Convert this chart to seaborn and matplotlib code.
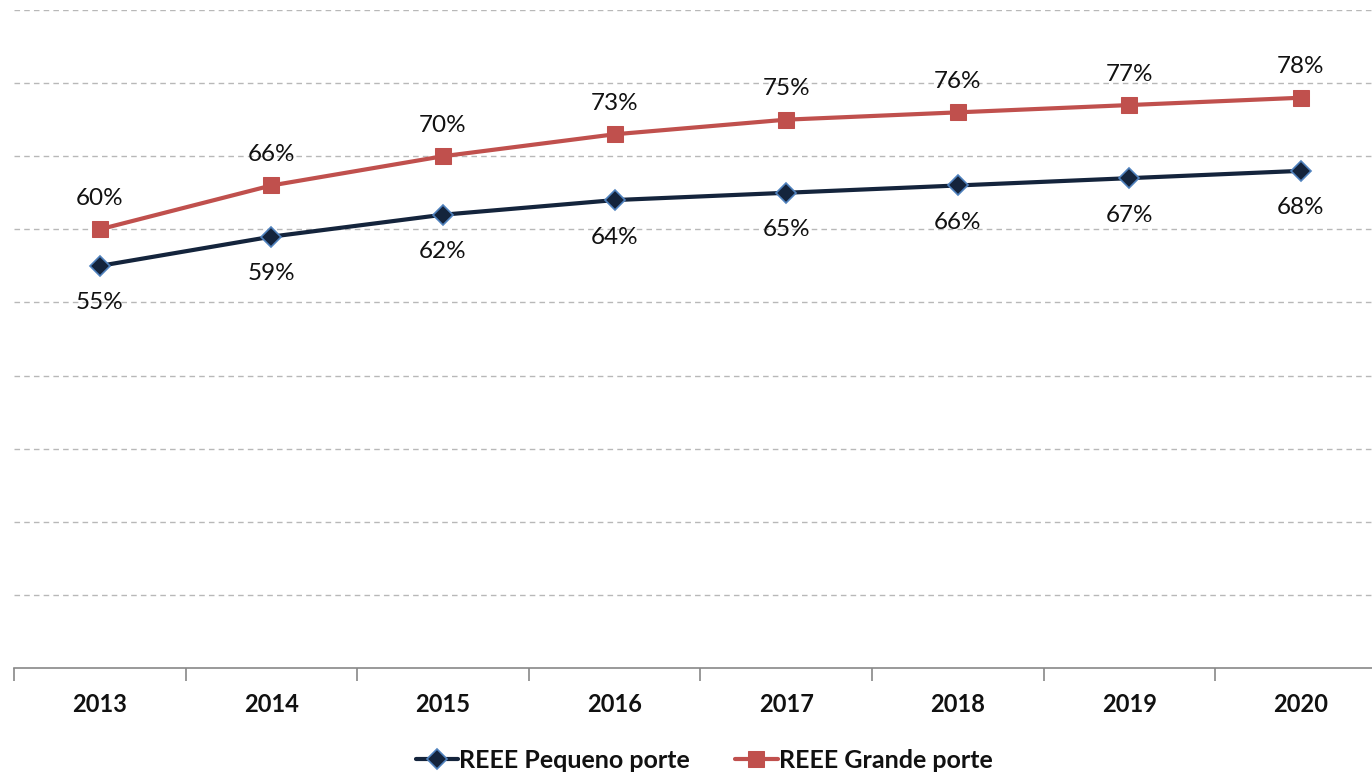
import matplotlib
matplotlib.use("Agg")
import matplotlib.pyplot as plt
import seaborn as sns
import pandas as pd
import numpy as np

years = ["2013", "2014", "2015", "2016", "2017", "2018", "2019", "2020"]
pequeno = [55, 59, 62, 64, 65, 66, 67, 68]
grande = [60, 66, 70, 73, 75, 76, 77, 78]
series_names = ["REEE Pequeno porte", "REEE Grande porte"]

sns.set_theme(style="white")
plt.rcParams['font.family'] = ['Lato', 'DejaVu Sans']

W, H = 1372, 774
fig = plt.figure(figsize=(W / 100, H / 100), dpi=100)
left = 14 / W
bottom = 1 - 668 / H
top = 1 - 10 / H
ax = fig.add_axes([left, bottom, 1 - left, top - bottom])

df = pd.DataFrame({
    "x": list(range(len(years))) * 2,
    "value": pequeno + grande,
    "series": [series_names[0]] * len(years) + [series_names[1]] * len(years),
})

navy = "#14243C"
red = "#C0504D"
sns.lineplot(data=df[df.series == series_names[0]], x="x", y="value", ax=ax,
             color=navy, lw=3, marker="D", markersize=10,
             markerfacecolor=navy, markeredgecolor="#4F81BD", markeredgewidth=1.2,
             label=series_names[0], zorder=3)
sns.lineplot(data=df[df.series == series_names[1]], x="x", y="value", ax=ax,
             color=red, lw=3, marker="s", markersize=12,
             markerfacecolor=red, markeredgecolor=red,
             label=series_names[1], zorder=3)

for i, v in enumerate(grande):
    ax.annotate(f"{v}%", (i, v), xytext=(0, 31), textcoords="offset pixels",
                ha="center", va="center", fontsize=17.5, color="#111111")
for i, v in enumerate(pequeno):
    ax.annotate(f"{v}%", (i, v), xytext=(0, -37), textcoords="offset pixels",
                ha="center", va="center", fontsize=17.5, color="#111111")

ax.set_yticks(np.arange(10, 91, 10))
ax.yaxis.grid(True, linestyle=(0, (4, 3)), color="#b8b8b8", lw=1)
ax.xaxis.grid(False)
ax.tick_params(axis="y", left=False, labelleft=False)
ax.set_xticks(range(len(years)))
ax.set_xticklabels(years, fontsize=17, fontweight="bold", color="#111111")
ax.set_xticks(np.arange(-0.5, len(years), 1.0), minor=True)
ax.tick_params(axis="x", which="major", length=0, pad=18)
ax.tick_params(axis="x", which="minor", length=9, width=1.2, color="#888888", direction="out", bottom=True)
xmax = -0.5 + (W - 14) / 171.6
ax.set_xlim(-0.5, xmax)
ax.set_ylim(0, 90)
ax.set_xlabel("")
ax.set_ylabel("")
for s in ["top", "right", "left"]:
    ax.spines[s].set_visible(False)
ax.spines["bottom"].set_color("#888888")
ax.spines["bottom"].set_linewidth(1.2)

leg = fig.legend(*ax.get_legend_handles_labels(), loc="center", bbox_to_anchor=(704 / W, 1 - 760 / H),
                 ncol=2, frameon=False, prop={"weight": "bold", "size": 18},
                 handlelength=1.7, handletextpad=0.05, columnspacing=1.8)
ax.get_legend().remove()
for t in leg.get_texts():
    t.set_color("#111111")

fig.savefig("out.png", dpi=100)
